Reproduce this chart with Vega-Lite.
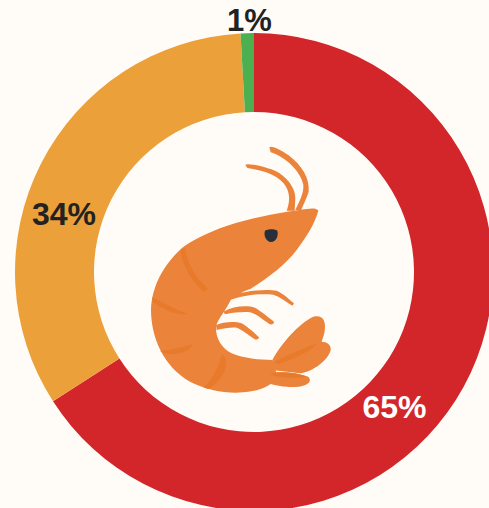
{"$schema":"https://vega.github.io/schema/vega-lite/v6.json","width":489,"height":508,"padding":0,"autosize":"none","background":"#fffcf8","config":{"view":{"stroke":null}},
"data":{"values":[{"idx":1,"label":"65%","value":65.9,"name":"red"},{"idx":2,"label":"34%","value":33.2,"name":"orange"},{"idx":3,"label":"1%","value":0.9,"name":"green"}]},
"encoding":{
"x":{"datum":0,"type":"quantitative","axis":null,"scale":{"domain":[-254,235],"nice":false,"zero":false}},
"y":{"datum":0,"type":"quantitative","axis":null,"scale":{"domain":[-272,236],"reverse":true,"nice":false,"zero":false}}},
"layer":[
{"mark":{"type":"arc","outerRadius":239,"innerRadius":160},"encoding":{"theta":{"field":"value","type":"quantitative","stack":true},"order":{"field":"idx","type":"ordinal"},"color":{"field":"name","type":"nominal","legend":null,"scale":{"domain":["red","orange","green"],"range":["#d2262b","#eba03a","#4caf50"]}}}},
{"transform":[{"filter":"datum.idx==1"}],"mark":{"type":"text","font":"Liberation Sans","fontWeight":"bold","fontSize":32,"color":"#ffffff","baseline":"middle"},"encoding":{"x":{"datum":140.5},"y":{"datum":136},"text":{"field":"label"}}},
{"transform":[{"filter":"datum.idx==2"}],"mark":{"type":"text","font":"Liberation Sans","fontWeight":"bold","fontSize":32,"color":"#222222","baseline":"middle"},"encoding":{"x":{"datum":-190},"y":{"datum":-57},"text":{"field":"label"}}},
{"transform":[{"filter":"datum.idx==3"}],"mark":{"type":"text","font":"Liberation Sans","fontWeight":"bold","fontSize":31,"color":"#222222","baseline":"middle"},"encoding":{"x":{"datum":-4.5},"y":{"datum":-250.5},"text":{"field":"label"}}},
{"transform":[{"filter":"datum.idx==1"}],"mark":{"type":"point","filled":true,"size":0.4444,"opacity":1,"color":"#ec833a","shape":"M316 75C320 68 370 78 405 92C440 108 467 145 466 175L464 212L440 212C448 190 452 165 438 140C423 112 380 92 322 84Z"},"encoding":{"x":{"datum":-114},"y":{"datum":-132}}},
{"transform":[{"filter":"datum.idx==1"}],"mark":{"type":"point","filled":true,"size":0.4444,"opacity":1,"color":"#ec833a","shape":"M388 22C395 15 420 28 445 45C485 75 510 115 506 155C500 175 487 200 484 210L466 210C478 185 492 160 490 135C483 97 440 52 392 37Z"},"encoding":{"x":{"datum":-114},"y":{"datum":-132}}},
{"transform":[{"filter":"datum.idx==1"}],"mark":{"type":"point","filled":true,"size":0.4444,"opacity":1,"color":"#ec833a","shape":"M535 212C530 204 515 204 500 207C430 215 320 235 240 265C190 285 150 305 125 325C70 375 35 440 33 510C33 590 70 680 150 725C200 750 260 762 310 757C350 755 380 742 395 730L410 700L397 660C360 660 310 655 275 640C245 625 228 595 228 565C230 540 250 525 275 475C300 460 320 450 330 448C390 410 440 370 470 330C500 290 525 250 535 212Z"},"encoding":{"x":{"datum":-114},"y":{"datum":-132}}},
{"transform":[{"filter":"datum.idx==1"}],"mark":{"type":"point","filled":true,"size":0.4444,"opacity":1,"color":"#ec833a","shape":"M262 470C300 455 370 445 410 452C430 460 450 480 462 490L458 497C440 487 420 470 400 464C360 460 310 465 270 480ZM250 515C280 498 320 495 345 503C365 515 390 535 402 545C402 552 395 555 388 552C370 540 350 522 330 517C310 515 280 518 255 523ZM228 555C250 545 285 543 305 550C325 562 345 580 357 592C356 600 348 600 342 596C325 585 305 568 290 563C270 562 250 565 230 570Z"},"encoding":{"x":{"datum":-114},"y":{"datum":-132}}},
{"transform":[{"filter":"datum.idx==1"}],"mark":{"type":"point","filled":true,"size":0.4444,"opacity":1,"color":"#ec833a","shape":"M397 660C430 600 490 540 525 529C550 525 560 545 553 580L545 605C560 605 575 615 572 630C565 660 520 695 480 700L395 690Z"},"encoding":{"x":{"datum":-114},"y":{"datum":-132}}},
{"transform":[{"filter":"datum.idx==1"}],"mark":{"type":"point","filled":true,"size":0.4444,"opacity":1,"color":"#ec833a","shape":"M385 700C430 690 490 705 505 710C522 730 490 742 450 741C420 740 400 735 385 730Z"},"encoding":{"x":{"datum":-114},"y":{"datum":-132}}},
{"transform":[{"filter":"datum.idx==1"}],"mark":{"type":"point","filled":true,"size":0.4444,"opacity":1,"color":"#e87a2c","shape":"M122 330C125 370 150 420 190 455C200 455 205 447 200 442C170 415 145 380 135 325ZM38 472C70 490 110 510 145 522C125 527 90 518 70 505C55 497 42 490 36 483ZM60 633C90 630 130 622 158 612C155 630 125 640 100 643C85 645 70 640 60 633ZM190 742C215 725 235 680 245 645C258 645 262 670 255 690C245 715 225 735 205 748ZM405 665C445 645 490 625 530 610C520 630 470 655 415 673ZM390 702C420 693 470 697 500 710C470 715 410 715 390 702Z"},"encoding":{"x":{"datum":-114},"y":{"datum":-132}}},
{"transform":[{"filter":"datum.idx==1"}],"mark":{"type":"point","filled":true,"size":0.4444,"opacity":1,"color":"#27303a","shape":"M375 272C385 266 405 266 412 272C416 285 410 305 393 306C378 305 370 285 375 272Z"},"encoding":{"x":{"datum":-114},"y":{"datum":-132}}}
]}
